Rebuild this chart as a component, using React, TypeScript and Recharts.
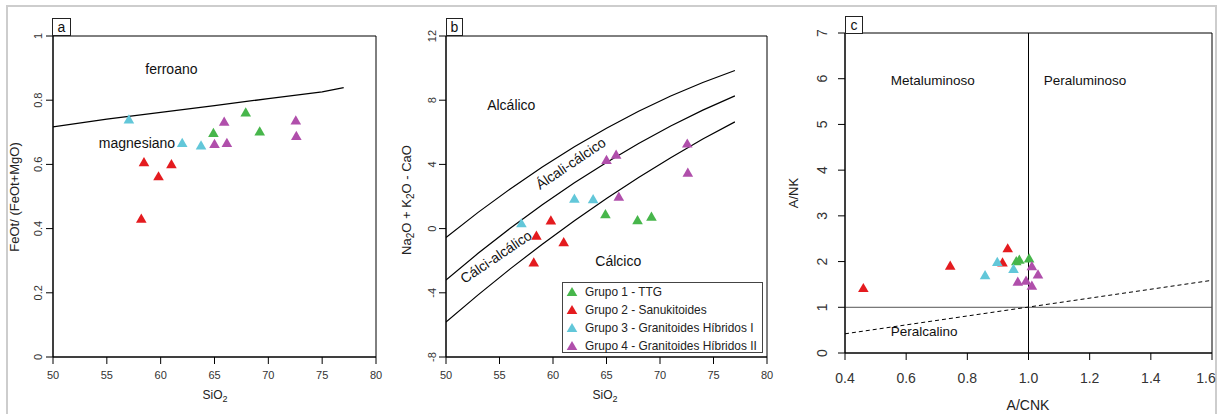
import React from "react";
import {
  ScatterChart,
  Scatter,
  XAxis,
  YAxis,
  ReferenceArea,
  ReferenceLine,
  Legend,
} from "recharts";

const FONT = '"Liberation Sans", Arial, sans-serif';

const GREEN = "#47b64b";
const RED = "#e41b1f";
const CYAN = "#62c7d9";
const PURPLE = "#b04fab";

const GROUPS = [
  "Grupo 1 - TTG",
  "Grupo 2 - Sanukitoides",
  "Grupo 3 - Granitoides Híbridos I",
  "Grupo 4 - Granitoides Híbridos II",
];
const COLORS = [GREEN, RED, CYAN, PURPLE];

// SiO2 per sample, shared by panels a and b
const SIO2_G1 = [64.9, 67.9, 69.2];
const SIO2_G2 = [58.45, 61.0, 59.8, 58.2];
const SIO2_G3 = [57.05, 62.0, 63.75];
const SIO2_G4 = [65.0, 65.9, 66.15, 72.55, 72.6];

// FeOt/(FeOt+MgO)
const FE_G1 = [0.695, 0.759, 0.7];
const FE_G2 = [0.604, 0.598, 0.56, 0.428];
const FE_G3 = [0.737, 0.664, 0.656];
const FE_G4 = [0.661, 0.73, 0.664, 0.734, 0.686];

// Na2O + K2O - CaO
const MALI_G1 = [0.84, 0.47, 0.68];
const MALI_G2 = [-0.5, -0.91, 0.45, -2.17];
const MALI_G3 = [0.27, 1.8, 1.78];
const MALI_G4 = [4.22, 4.55, 1.93, 5.24, 3.43];

// A/CNK and A/NK
const ACNK_G1 = [0.96, 0.97, 1.002];
const ANK_G1 = [1.99, 2.02, 2.05];
const ACNK_G2 = [0.46, 0.744, 0.932, 0.915];
const ANK_G2 = [1.4, 1.89, 2.27, 1.96];
const ACNK_G3 = [0.858, 0.898, 0.951];
const ANK_G3 = [1.68, 1.97, 1.82];
const ACNK_G4 = [0.965, 0.992, 1.011, 1.031, 1.011];
const ANK_G4 = [1.54, 1.56, 1.88, 1.7, 1.45];

// boundary lines
const FROST_X = [50, 55, 60, 65, 70, 75, 77];
const FROST_Y = [0.717, 0.741, 0.762, 0.783, 0.805, 0.826, 0.839];

const MALI_X = [50, 53, 56, 59, 62, 65, 68, 71, 74, 77];
const MALI_ALK = [-0.56, 1.01, 2.47, 3.84, 5.1, 6.25, 7.31, 8.26, 9.1, 9.85];
const MALI_AC = [-3.2, -1.54, 0.02, 1.48, 2.85, 4.12, 5.3, 6.39, 7.38, 8.27];
const MALI_CA = [-5.82, -4.13, -2.51, -0.97, 0.49, 1.88, 3.19, 4.42, 5.58, 6.65];

const SHAND_X = [0.4, 1.6];
const SHAND_Y = [0.42, 1.59];

// field names
const FIELDS_A = [
  { x: 61.0, y: 0.897, text: "ferroano", angle: 0 },
  { x: 57.8, y: 0.666, text: "magnesiano", angle: 0 },
];
const FIELDS_B = [
  { x: 56.1, y: 7.69, text: "Alcálico", angle: 0 },
  { x: 61.65, y: 4.07, text: "Álcali-cálcico", angle: -34 },
  { x: 54.67, y: -1.75, text: "Cálci-alcálico", angle: -34 },
  { x: 66.1, y: -2.0, text: "Cálcico", angle: 0 },
];
const FIELDS_C = [
  { x: 0.687, y: 5.96, text: "Metaluminoso", angle: 0 },
  { x: 1.185, y: 5.96, text: "Peraluminoso", angle: 0 },
  { x: 0.659, y: 0.48, text: "Peralcalino", angle: 0 },
];

const pts = (xs: number[], ys: number[]) => xs.map((x, i) => ({ x, y: ys[i] }));

const tri = (color: string) => (p: any) => (
  <polygon
    points={`${p.cx},${p.cy - 6.1} ${p.cx - 5.3},${p.cy + 3.1} ${p.cx + 5.3},${p.cy + 3.1}`}
    fill={color}
  />
);

const fieldText = (fs: number) => (p: any) => (
  <text
    x={p.cx}
    y={p.cy}
    transform={p.payload.angle ? `rotate(${p.payload.angle} ${p.cx} ${p.cy})` : undefined}
    textAnchor="middle"
    dominantBaseline="central"
    fontSize={fs}
    fontFamily={FONT}
    fill="#111"
  >
    {p.payload.text}
  </text>
);

const noDot = () => <g />;

const xTick = (fs: number, dy: number, fmt: (v: number) => string) => (p: any) => (
  <text x={p.x} y={p.y + dy} textAnchor="middle" fontSize={fs} fontFamily={FONT} fill="#333">
    {fmt(p.payload.value)}
  </text>
);

const yTick = (fs: number, off: number, fmt: (v: number) => string) => (p: any) => (
  <text
    transform={`translate(${p.x - off},${p.y}) rotate(-90)`}
    textAnchor="middle"
    fontSize={fs}
    fontFamily={FONT}
    fill="#333"
  >
    {fmt(p.payload.value)}
  </text>
);

const axisStyle = {
  axisLine: { stroke: "#000" },
  tickLine: { stroke: "#000" },
  tickSize: 7,
  tickMargin: 0,
};

const PanelTag = ({ left, top, w, h, text }: any) => (
  <div
    style={{
      position: "absolute",
      left,
      top,
      width: w,
      height: h,
      boxSizing: "border-box",
      border: "1px solid #222",
      background: "#fff",
      fontFamily: FONT,
      fontSize: 14,
      lineHeight: `${h - 2}px`,
      textAlign: "center",
      color: "#111",
    }}
  >
    {text}
  </div>
);

const LegendBox = () => (
  <div
    style={{
      boxSizing: "border-box",
      width: 201,
      height: 71,
      border: "1px solid #444",
      background: "#fff",
      fontFamily: FONT,
      fontSize: 11.9,
      color: "#222",
    }}
  >
    {GROUPS.map((g, i) => (
      <div key={g} style={{ height: 18, display: "flex", alignItems: "center" }}>
        <svg width={12} height={12} style={{ marginLeft: 3, marginRight: 7 }}>
          <polygon points="6,0.9 0.7,10.1 11.3,10.1" fill={COLORS[i]} />
        </svg>
        <span style={{ whiteSpace: "nowrap" }}>{g}</span>
      </div>
    ))}
  </div>
);

const groupsA = [pts(SIO2_G1, FE_G1), pts(SIO2_G2, FE_G2), pts(SIO2_G3, FE_G3), pts(SIO2_G4, FE_G4)];
const groupsB = [pts(SIO2_G1, MALI_G1), pts(SIO2_G2, MALI_G2), pts(SIO2_G3, MALI_G3), pts(SIO2_G4, MALI_G4)];
const groupsC = [pts(ACNK_G1, ANK_G1), pts(ACNK_G2, ANK_G2), pts(ACNK_G3, ANK_G3), pts(ACNK_G4, ANK_G4)];

const App = () => {
  return (
    <div style={{ position: "absolute", left: 0, top: 0, width: 1227, height: 414, background: "#fff", overflow: "hidden" }}>
      <div
        style={{
          position: "absolute",
          left: 6,
          top: 5,
          width: 1211,
          height: 430,
          border: "2px solid #cdcdcd",
          boxSizing: "border-box",
        }}
      />

      {/* panel a */}
      <div style={{ position: "absolute", left: 0, top: 0 }}>
        <ScatterChart width={386} height={414} margin={{ top: 36, right: 10, bottom: 0, left: 0 }}>
          <XAxis
            type="number"
            dataKey="x"
            domain={[50, 80]}
            ticks={[50, 55, 60, 65, 70, 75, 80]}
            allowDataOverflow
            height={57}
            {...axisStyle}
            tick={xTick(11, 15, (v) => String(v))}
            label={{
              content: () => (
                <text x={215} y={399} textAnchor="middle" fontSize={12} fontFamily={FONT} fill="#222">
                  SiO<tspan dy={3} fontSize={9}>2</tspan>
                </text>
              ),
            }}
          />
          <YAxis
            type="number"
            dataKey="y"
            domain={[0, 1]}
            ticks={[0, 0.2, 0.4, 0.6, 0.8, 1]}
            allowDataOverflow
            width={53}
            {...axisStyle}
            tick={yTick(11, 4, (v) => String(v))}
            label={{
              content: () => (
                <text transform="translate(19,197) rotate(-90)" textAnchor="middle" fontSize={13} fontFamily={FONT} fill="#222">
                  FeOt/ (FeOt+MgO)
                </text>
              ),
            }}
          />
          <ReferenceArea x1={50} x2={80} y1={0} y2={1} fill="none" stroke="#000" strokeWidth={1} />
          <Scatter data={pts(FROST_X, FROST_Y)} line={{ stroke: "#000", strokeWidth: 1.3 }} shape={noDot} isAnimationActive={false} />
          <Scatter data={FIELDS_A} shape={fieldText(14)} isAnimationActive={false} />
          {groupsA.map((d, i) => (
            <Scatter key={GROUPS[i]} name={GROUPS[i]} data={d} shape={tri(COLORS[i])} isAnimationActive={false} />
          ))}
        </ScatterChart>
      </div>

      {/* panel b */}
      <div style={{ position: "absolute", left: 390, top: 0 }}>
        <ScatterChart width={410} height={414} margin={{ top: 36, right: 33, bottom: 0, left: 0 }}>
          <XAxis
            type="number"
            dataKey="x"
            domain={[50, 80]}
            ticks={[50, 55, 60, 65, 70, 75, 80]}
            allowDataOverflow
            height={57}
            {...axisStyle}
            tick={xTick(11, 15, (v) => String(v))}
            label={{
              content: () => (
                <text x={215} y={399} textAnchor="middle" fontSize={12} fontFamily={FONT} fill="#222">
                  SiO<tspan dy={3} fontSize={9}>2</tspan>
                </text>
              ),
            }}
          />
          <YAxis
            type="number"
            dataKey="y"
            domain={[-8, 12]}
            ticks={[-8, -4, 0, 4, 8, 12]}
            allowDataOverflow
            width={56}
            {...axisStyle}
            tick={yTick(11, 3, (v) => String(v))}
            label={{
              content: () => (
                <text transform="translate(21,200) rotate(-90)" textAnchor="middle" fontSize={13} fontFamily={FONT} fill="#222">
                  Na<tspan dy={3} fontSize={10}>2</tspan>
                  <tspan dy={-3}>O + K</tspan>
                  <tspan dy={3} fontSize={10}>2</tspan>
                  <tspan dy={-3}>O - CaO</tspan>
                </text>
              ),
            }}
          />
          <ReferenceArea x1={50} x2={80} y1={-8} y2={12} fill="none" stroke="#000" strokeWidth={1} />
          <Scatter data={pts(MALI_X, MALI_ALK)} line={{ stroke: "#000", strokeWidth: 1.2 }} shape={noDot} isAnimationActive={false} />
          <Scatter data={pts(MALI_X, MALI_AC)} line={{ stroke: "#000", strokeWidth: 1.2 }} shape={noDot} isAnimationActive={false} />
          <Scatter data={pts(MALI_X, MALI_CA)} line={{ stroke: "#000", strokeWidth: 1.2 }} shape={noDot} isAnimationActive={false} />
          <Scatter data={FIELDS_B} shape={fieldText(14)} isAnimationActive={false} />
          {groupsB.map((d, i) => (
            <Scatter key={GROUPS[i]} name={GROUPS[i]} data={d} shape={tri(COLORS[i])} isAnimationActive={false} />
          ))}
          <Legend
            layout="vertical"
            align="center"
            verticalAlign="middle"
            wrapperStyle={{ left: 172, top: 282, width: 201, height: 71 }}
            content={() => <LegendBox />}
          />
        </ScatterChart>
      </div>

      {/* panel c */}
      <div style={{ position: "absolute", left: 780, top: 0 }}>
        <ScatterChart width={436} height={414} margin={{ top: 33, right: 4, bottom: 0, left: 0 }}>
          <XAxis
            type="number"
            dataKey="x"
            domain={[0.4, 1.6]}
            ticks={[0.4, 0.6, 0.8, 1.0, 1.2, 1.4, 1.6]}
            allowDataOverflow
            height={61}
            {...axisStyle}
            tick={xTick(14, 23, (v) => v.toFixed(1))}
            label={{
              content: () => (
                <text x={248} y={410} textAnchor="middle" fontSize={14} fontFamily={FONT} fill="#222">
                  A/CNK
                </text>
              ),
            }}
          />
          <YAxis
            type="number"
            dataKey="y"
            domain={[0, 7]}
            ticks={[0, 1, 2, 3, 4, 5, 6, 7]}
            allowDataOverflow
            width={65}
            {...axisStyle}
            tick={yTick(14, 11, (v) => String(v))}
            label={{
              content: () => (
                <text transform="translate(18,193) rotate(-90)" textAnchor="middle" fontSize={13} fontFamily={FONT} fill="#222">
                  A/NK
                </text>
              ),
            }}
          />
          <ReferenceArea x1={0.4} x2={1.6} y1={0} y2={7} fill="none" stroke="#000" strokeWidth={1} />
          <ReferenceLine x={1} stroke="#000" strokeWidth={1} />
          <ReferenceLine y={1} stroke="#555" strokeWidth={1} />
          <Scatter
            data={pts(SHAND_X, SHAND_Y)}
            line={{ stroke: "#000", strokeWidth: 1, strokeDasharray: "4 3" }}
            shape={noDot}
            isAnimationActive={false}
          />
          <Scatter data={FIELDS_C} shape={fieldText(13.5)} isAnimationActive={false} />
          {groupsC.map((d, i) => (
            <Scatter key={GROUPS[i]} name={GROUPS[i]} data={d} shape={tri(COLORS[i])} isAnimationActive={false} />
          ))}
        </ScatterChart>
      </div>

      <PanelTag left={52} top={18} w={19} h={18} text="a" />
      <PanelTag left={446} top={18} w={17} h={18} text="b" />
      <PanelTag left={845} top={16} w={18} h={18} text="c" />
    </div>
  );
};

export default App;
